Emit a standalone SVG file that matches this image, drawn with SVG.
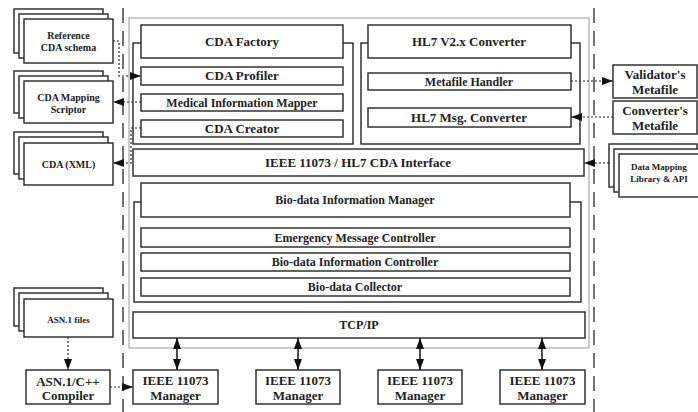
<svg xmlns="http://www.w3.org/2000/svg" width="698" height="412" viewBox="0 0 698 412">
<defs>
<marker id="ah" viewBox="0 0 11 8" refX="11" refY="4" markerWidth="11" markerHeight="8" markerUnits="userSpaceOnUse" orient="auto-start-reverse">
<path d="M0,0 L11,4 L0,8 Z" fill="#111"/>
</marker>
<style>
.b{fill:#fff;stroke:#333;stroke-width:1.5}
.br{fill:none;stroke:#333;stroke-width:1.5}
.fr{fill:none;stroke:#aaa;stroke-width:1.2}
.dl{fill:none;stroke:#444;stroke-width:1.5;stroke-dasharray:15,8}
.dot{fill:none;stroke:#222;stroke-width:1.2;stroke-dasharray:2,2}
.so{fill:none;stroke:#111;stroke-width:1.5}
text{font-family:"Liberation Serif","Times New Roman",serif;font-weight:bold;fill:#222;text-anchor:middle}
.t13{font-size:13px}
.t12{font-size:12px}
.t10{font-size:10px}
.t9{font-size:9px}
</style>
</defs>
<rect width="698" height="412" fill="#fff"/>

<!-- dashed boundaries -->
<line class="dl" x1="123" y1="8" x2="123" y2="412"/>
<line class="dl" x1="594" y1="8" x2="594" y2="412"/>

<!-- outer frame -->
<rect class="fr" x="129" y="18" width="460" height="330"/>

<g id="cda-factory-group">
<path class="br" d="M141,43 H133 V144 H353 V43 H343"/>
<rect class="b" x="141" y="25" width="202" height="33"/>
<text class="t13" x="242" y="46">CDA Factory</text>
</g>
<g id="cda-profiler"><rect class="b" x="141" y="67" width="202" height="18"/><text class="t13" x="242" y="80">CDA Profiler</text></g>
<g id="medical-information-mapper"><rect class="b" x="141" y="94" width="202" height="17"/><text class="t12" x="242" y="107">Medical Information Mapper</text></g>
<g id="cda-creator"><rect class="b" x="141" y="120" width="202" height="17"/><text class="t13" x="242" y="133">CDA Creator</text></g>

<g id="hl7-converter-group">
<path class="br" d="M368,43 H361 V144 H580 V43 H571"/>
<rect class="b" x="368" y="25" width="203" height="33"/>
<text class="t13" x="469" y="46">HL7 V2.x Converter</text>
</g>
<g id="metafile-handler"><rect class="b" x="368" y="73" width="203" height="17"/><text class="t12" x="469" y="86">Metafile Handler</text></g>
<g id="hl7-msg-converter"><rect class="b" x="368" y="108" width="203" height="19"/><text class="t13" x="469" y="122">HL7 Msg. Converter</text></g>

<g id="cda-interface"><rect class="b" x="133" y="149" width="451" height="27"/><text class="t13" x="358" y="167">IEEE 11073 / HL7 CDA Interface</text></g>

<g id="biodata-group">
<path class="br" d="M141,202 H134 V302 H581 V202 H570"/>
<rect class="b" x="141" y="183" width="429" height="34"/>
<text class="t12" x="355" y="204">Bio-data Information Manager</text>
</g>
<g id="emergency-message-controller"><rect class="b" x="141" y="228" width="429" height="19"/><text class="t12" x="355" y="242">Emergency Message Controller</text></g>
<g id="biodata-information-controller"><rect class="b" x="141" y="253" width="429" height="18"/><text class="t12" x="355" y="266">Bio-data Information Controller</text></g>
<g id="biodata-collector"><rect class="b" x="141" y="278" width="429" height="18"/><text class="t12" x="355" y="291">Bio-data Collector</text></g>

<g id="tcpip"><rect class="b" x="133" y="312" width="452" height="26"/><text class="t12" x="359" y="329">TCP/IP</text></g>

<g id="manager-1"><rect class="b" x="133" y="370" width="85" height="34"/><text class="t13" x="175.5" y="385">IEEE 11073</text><text class="t13" x="175.5" y="400">Manager</text></g>
<g id="manager-2"><rect class="b" x="256" y="370" width="84" height="34"/><text class="t13" x="298" y="385">IEEE 11073</text><text class="t13" x="298" y="400">Manager</text></g>
<g id="manager-3"><rect class="b" x="378" y="370" width="84" height="34"/><text class="t13" x="420" y="385">IEEE 11073</text><text class="t13" x="420" y="400">Manager</text></g>
<g id="manager-4"><rect class="b" x="500" y="370" width="85" height="34"/><text class="t13" x="542.5" y="385">IEEE 11073</text><text class="t13" x="542.5" y="400">Manager</text></g>

<g id="validator-metafile"><rect class="b" x="613" y="65" width="84" height="33"/><text class="t13" x="655" y="79">Validator's</text><text class="t13" x="655" y="94">Metafile</text></g>
<g id="converter-metafile"><rect class="b" x="613" y="101" width="84" height="33"/><text class="t13" x="655" y="115">Converter's</text><text class="t13" x="655" y="130">Metafile</text></g>

<g id="data-mapping-library">
<rect class="b" x="609" y="144" width="88" height="43"/>
<rect class="b" x="614" y="149" width="88" height="43"/>
<rect class="b" x="619" y="154" width="88" height="43"/>
<text class="t9" x="659" y="170">Data Mapping</text>
<text class="t9" x="659" y="182">Library &amp; API</text>
</g>

<g id="reference-cda-schema">
<rect class="b" x="14" y="9" width="89" height="44"/>
<rect class="b" x="19" y="14" width="89" height="44"/>
<rect class="b" x="24" y="19" width="89" height="44"/>
<text class="t10" x="68.5" y="39">Reference</text>
<text class="t10" x="68.5" y="51">CDA schema</text>
</g>
<g id="cda-mapping-scriptor">
<rect class="b" x="14" y="71" width="89" height="42"/>
<rect class="b" x="19" y="76" width="89" height="42"/>
<rect class="b" x="24" y="81" width="89" height="42"/>
<text class="t10" x="68.5" y="101">CDA Mapping</text>
<text class="t10" x="68.5" y="113">Scriptor</text>
</g>
<g id="cda-xml">
<rect class="b" x="14" y="132" width="89" height="42"/>
<rect class="b" x="19" y="137" width="89" height="42"/>
<rect class="b" x="24" y="143" width="89" height="42"/>
<text class="t10" x="68.5" y="168">CDA (XML)</text>
</g>
<g id="asn1-files">
<rect class="b" x="14" y="288" width="89" height="38"/>
<rect class="b" x="19" y="293" width="89" height="38"/>
<rect class="b" x="24" y="299" width="89" height="38"/>
<text class="t9" x="68.5" y="323">ASN.1 files</text>
</g>
<g id="asn1-compiler"><rect class="b" x="26" y="370" width="84" height="34"/><text class="t13" x="68" y="386">ASN.1/C++</text><text class="t13" x="68" y="400">Compiler</text></g>

<g id="connectors">
<path class="dot" d="M113,41 H119 V76 H141" marker-end="url(#ah)"/>
<path class="dot" d="M141,102 H113" marker-end="url(#ah)"/>
<path class="dot" d="M141,128 H131 V163 H113" marker-end="url(#ah)"/>
<path class="dot" d="M571,81 H613" marker-end="url(#ah)"/>
<path class="dot" d="M613,117 H571" marker-end="url(#ah)"/>
<path class="dot" d="M609,163 H584" marker-end="url(#ah)"/>
<path class="dot" d="M68,337 V370" marker-end="url(#ah)"/>
<path class="dot" d="M110,387 H133" marker-end="url(#ah)"/>
<path class="so" d="M177,338 V370" marker-start="url(#ah)" marker-end="url(#ah)"/>
<path class="so" d="M298,338 V370" marker-start="url(#ah)" marker-end="url(#ah)"/>
<path class="so" d="M420,338 V370" marker-start="url(#ah)" marker-end="url(#ah)"/>
<path class="so" d="M542,338 V370" marker-start="url(#ah)" marker-end="url(#ah)"/>
</g>
</svg>
